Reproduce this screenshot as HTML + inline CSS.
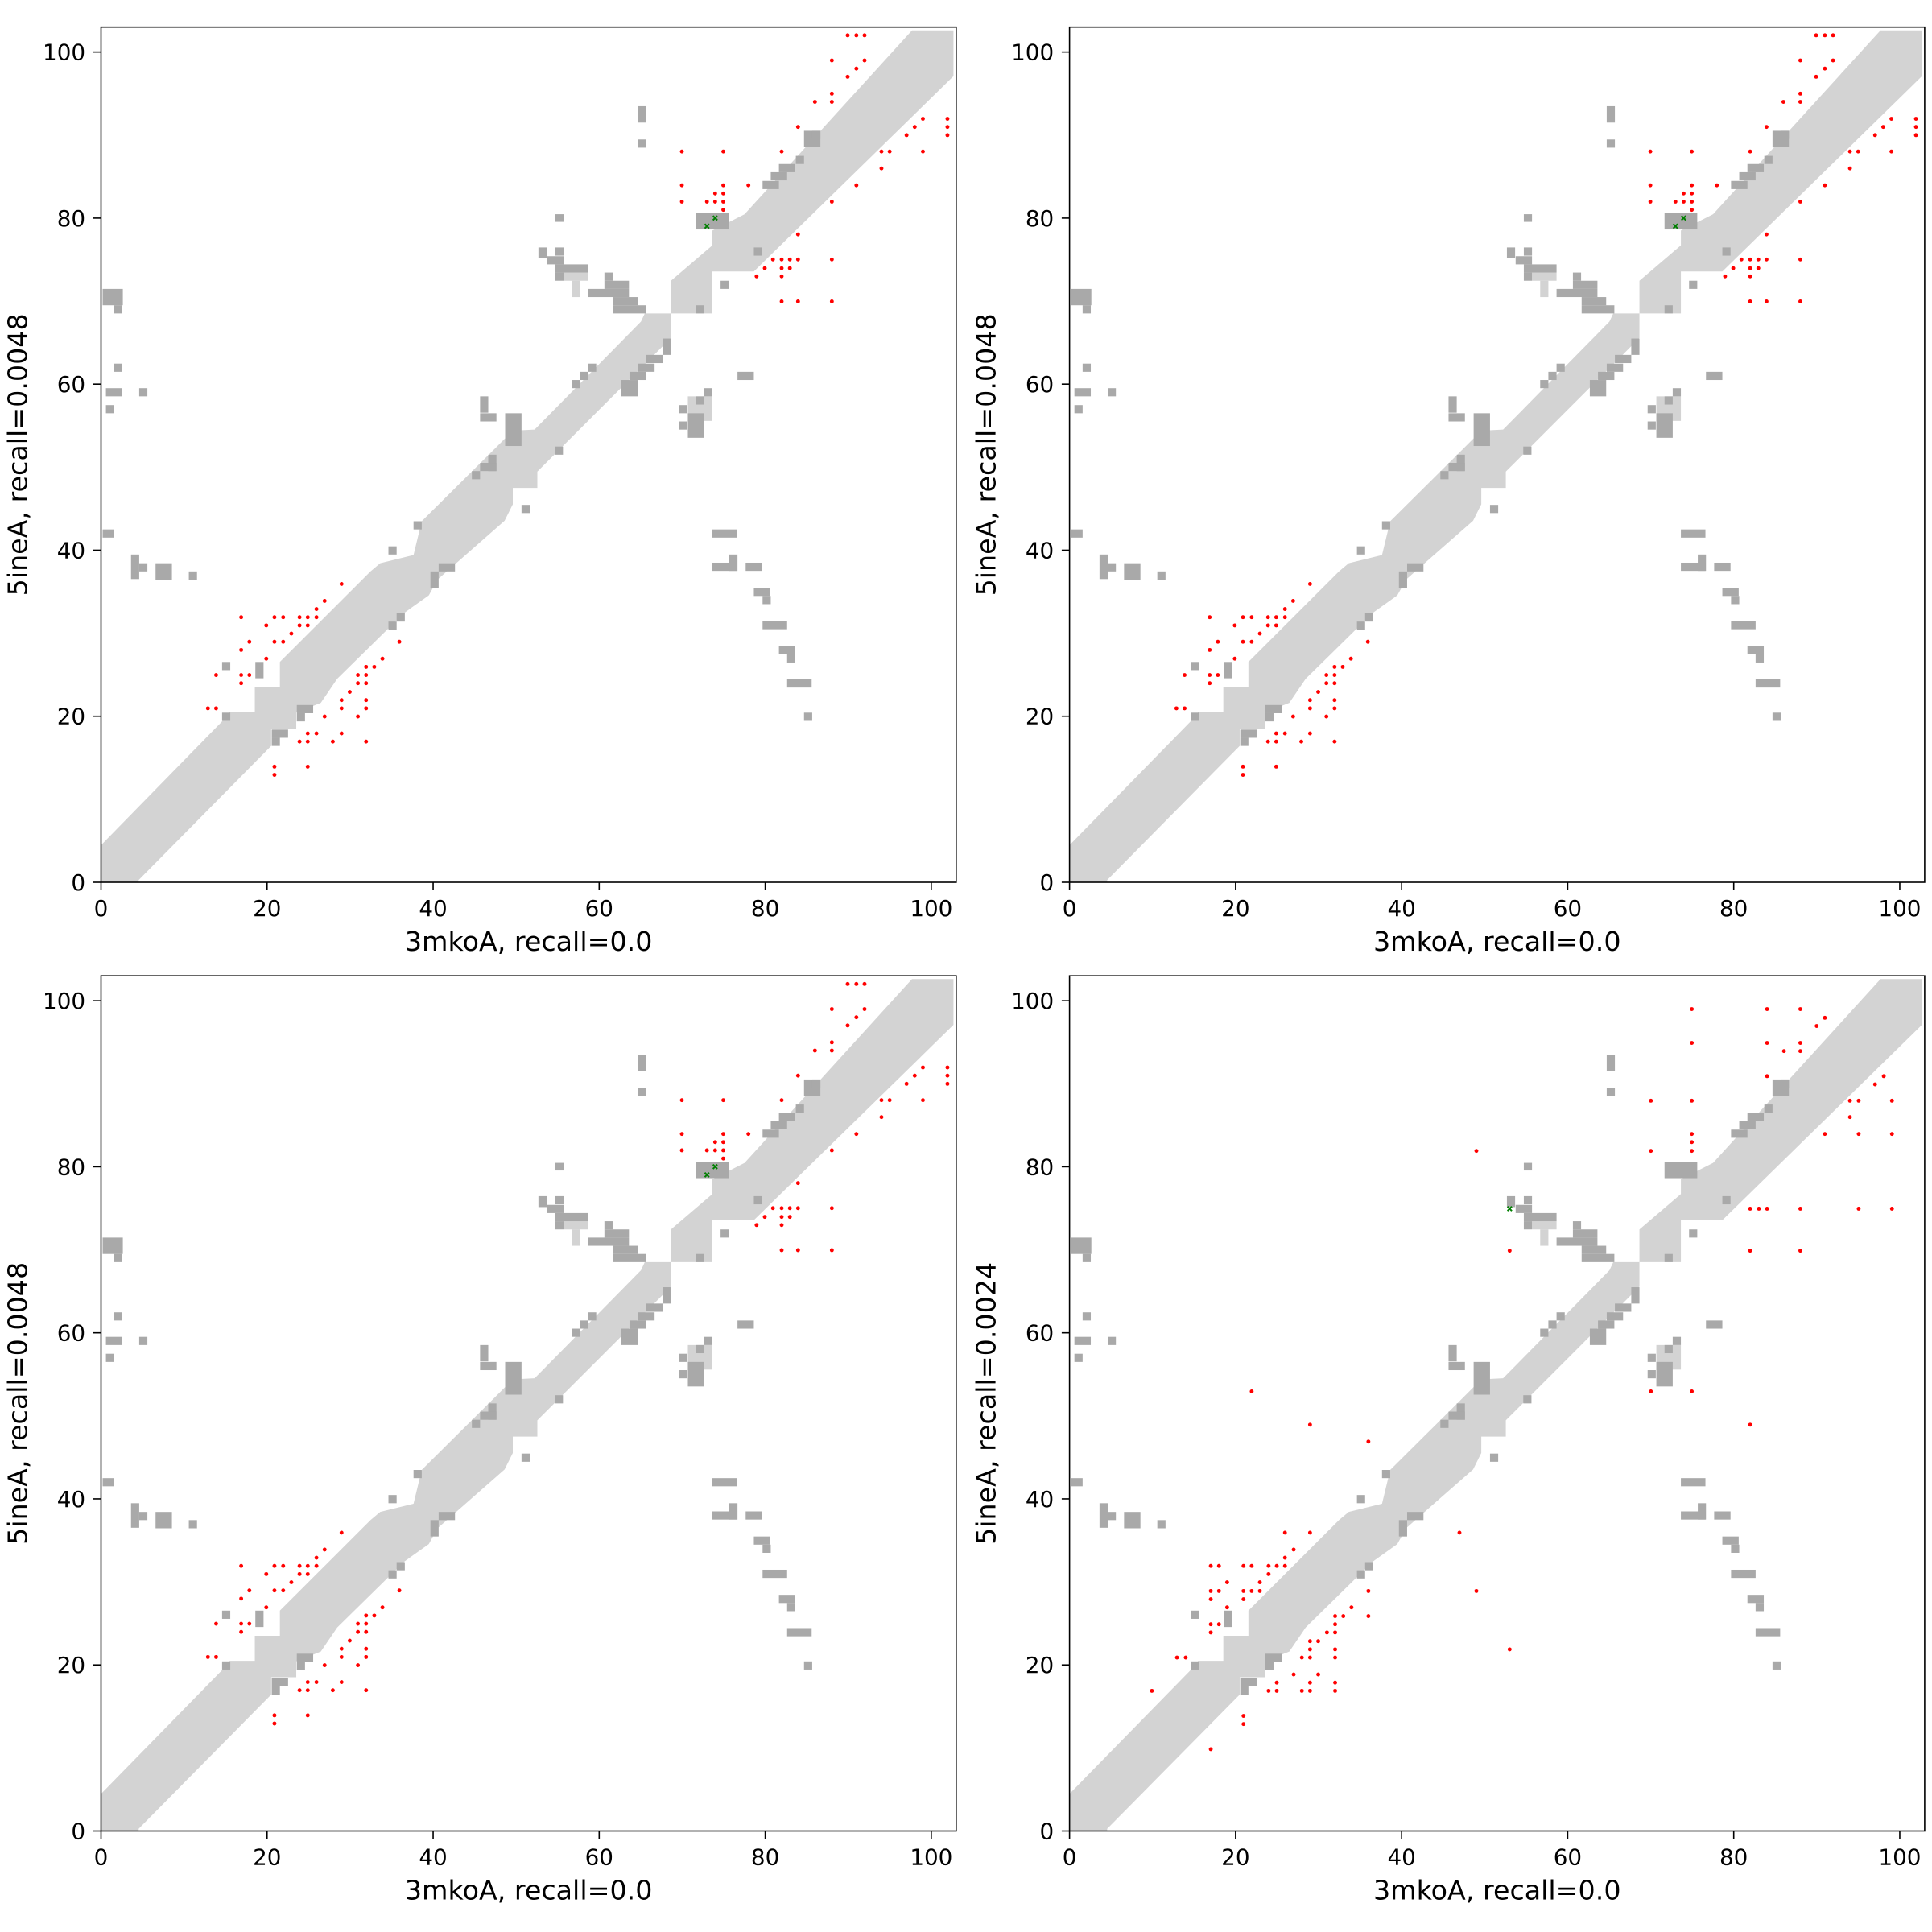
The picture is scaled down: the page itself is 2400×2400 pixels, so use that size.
<!DOCTYPE html>
<html><head><meta charset="utf-8"><style>html,body{margin:0;padding:0;background:#fff}svg{display:block}text{font-family:"DejaVu Sans","Liberation Sans",sans-serif;fill:#000}</style></head>
<body>
<svg id="s" xmlns="http://www.w3.org/2000/svg" width="2400" height="2400" viewBox="0 0 2400 2400">
<defs>
<g id="base">
<polygon fill="#d3d3d3" points="0,1500 221,1274 236,1256 282,1256 282,1210 328,1210 328,1164 494,998 512,983 573,968 588,906 725,770 755,740 795,738 990,540 997,525 1045,525 1045,465 1121,400 1121,373 1180,343 1487,6 1563,6 1563,90 1197,448 1121,448 1121,525 1045,525 1045,570 800,815 800,845 755,845 755,875 740,905 617,1013 601,1042 556,1074 433,1195 403,1239 358,1257 358,1286 312,1286 312,1318 69,1564 69,1568 0,1568"/>
<g fill="#d3d3d3"><rect x="1076" y="677" width="45" height="45"/><rect x="848" y="450" width="45" height="15"/><rect x="863" y="465" width="15" height="30"/></g>
<g id="dk" fill="#a9a9a9"></g>
</g>
</defs>
<g id="panels"></g>
<g id="txt"></g>
</svg>
<script>
var NS="http://www.w3.org/2000/svg";
var dk=[[985,145,15,30],[985,206,15,15],[833,343,15,14],[1091,341,60,30],[802,404,15,20],[833,404,15,15],[818,420,30,15],[833,435,60,15],[833,450,15,15],
[923,450,15,15],[923,465,45,15],[893,480,75,15],[939,495,45,15],[939,510,60,15],
[1289,190,30,30],[1304,190,15,15],[1274,236,15,15],[1243,251,30,15],[1228,266,30,15],[1213,282,30,15],[1197,404,15,15],[1136,465,15,15],[1091,510,15,15],
[1030,571,15,30],[1000,601,30,15],[985,617,30,15],[969,632,30,15],[954,647,30,30],[893,617,15,15],[878,632,15,15],[863,647,15,15],
[1167,632,30,15],[1106,662,15,15],[1091,677,15,15],[1060,693,15,15],[1076,708,30,45],[1060,723,15,15],
[695,677,15,30],[695,708,30,15],[741,708,30,60],[710,784,15,30],[695,799,30,15],[680,814,15,15],[832,769,15,15],[771,876,15,15],
[573,906,15,15],[527,952,15,15],[619,983,30,15],[604,998,15,30],[542,1075,15,15],[527,1090,15,15],
[1121,921,45,15],[1152,967,15,30],[1121,982,45,15],[1182,982,30,15],[1197,1028,30,15],[1213,1043,15,15],[1213,1089,45,15],[1243,1135,30,15],[1258,1150,15,15],[1258,1196,45,15],[1289,1257,15,15],
[3,480,37,30],[24,510,15,15],[24,617,15,15],[9,662,30,15],[70,662,15,15],[9,693,15,15],[3,921,21,15],[55,967,15,45],[70,983,15,15],[100,983,30,30],[161,998,15,15],
[222,1164,15,15],[283,1164,15,30],[359,1243,30,15],[359,1258,15,15],[222,1257,15,15],[313,1288,30,15],[313,1303,15,15]];
var g=document.getElementById('dk');
dk.forEach(function(r){var e=document.createElementNS(NS,'rect');e.setAttribute('x',r[0]);e.setAttribute('y',r[1]);e.setAttribute('width',r[2]);e.setAttribute('height',r[3]);g.appendChild(e);});
var d1=[[1369,15],[1385,15],[1400,15],[1340,61],[1400,61],[1385,76],[1369,91],[1340,122],[1340,137],[1309,137],[1278,183],[1507,168],[1552,168],[1492,183],[1552,183],[1477,198],[1552,198],[1065,228],[1141,228],[1248,228],[1431,228],[1446,228],[1507,228],[1431,259],[1065,290],[1141,290],[1187,290],[1385,290],[1126,305],[1141,305],[1065,320],[1111,320],[1126,320],[1141,320],[1340,320],[1141,335],[1278,380],[1232,426],[1248,426],[1263,426],[1278,426],[1340,426],[1217,442],[1248,442],[1263,442],[1202,457],[1248,457],[1248,503],[1278,503],[1340,503],
[441,1021],[410,1052],[395,1067],[257,1082],[318,1082],[334,1082],[364,1082],[379,1082],[395,1082],[303,1097],[364,1097],[379,1097],[349,1112],[272,1127],[318,1127],[334,1127],[547,1127],[257,1142],[303,1158],[516,1158],[486,1173],[501,1173],[211,1188],[257,1188],[272,1188],[471,1188],[486,1188],[257,1203],[471,1203],[486,1203],[456,1219],[441,1234],[486,1234],[196,1249],[211,1249],[441,1249],[486,1249],[410,1264],[471,1264],[379,1295],[395,1295],[441,1295],[364,1310],[379,1310],[425,1310],[486,1310],[318,1356],[379,1356],[318,1371]];
var g1=[[1126,350],[1111,365]];
var d4=[[1141,61],[1279,61],[1340,61],[1385,77],[1370,92],[1141,123],[1279,123],[1340,123],[1310,138],[1340,138],[1279,184],[1493,184],[1477,199],[1066,229],[1141,229],[1431,229],[1447,229],[1508,229],[1431,259],[1385,290],[1447,290],[1508,290],[1141,290],[1141,305],[1141,321],[1066,321],[746,321],[1248,427],[1264,427],[1279,427],[1340,427],[1447,427],[1508,427],[807,504],[1248,504],[1340,504],
[334,762],[1066,762],[1141,762],[441,823],[1248,823],[548,854],[715,1021],[746,1128],[807,1235],
[395,1021],[441,1021],[411,1052],[395,1067],[259,1082],[274,1082],[319,1082],[334,1082],[365,1082],[380,1082],[395,1082],[365,1097],[289,1112],[349,1112],[259,1128],[274,1128],[319,1128],[334,1128],[349,1128],[259,1143],[319,1143],[289,1158],[259,1189],[274,1189],[259,1204],[197,1250],[213,1250],[151,1311],
[548,1128],[517,1158],[487,1174],[502,1174],[548,1174],[487,1189],[472,1204],[487,1204],[441,1220],[456,1220],[441,1235],[487,1235],[426,1250],[441,1250],[487,1250],[411,1281],[456,1281],[380,1296],[441,1296],[487,1296],[365,1311],[380,1311],[426,1311],[441,1311],[487,1311],[319,1357],[319,1372],[259,1418]];
var g4=[[807,427]];
var P=document.getElementById('panels'),T=document.getElementById('txt');
var L=[125.5,1328.6],Tp=[33.7,1212.2],W=1062.3,u=W/103;
function el(n,a,p){var e=document.createElementNS(NS,n);for(var k in a)e.setAttribute(k,a[k]);p.appendChild(e);return e;}
var panels=[[0,0,d1,g1,'0.0048'],[1,0,d1,g1,'0.0048'],[0,1,d1,g1,'0.0048'],[1,1,d4,g4,'0.0024']];
panels.forEach(function(p){
 var x0=L[p[0]],y0=Tp[p[1]];
 var gg=el('g',{transform:'translate('+x0+','+y0+') scale('+(W/1568)+')'},P);
 el('use',{href:'#base'},gg);
 p[2].forEach(function(c){el('circle',{cx:c[0],cy:c[1],r:3.6,fill:'#ff0000'},gg);});
 p[3].forEach(function(c){el('path',{d:'M'+(c[0]-4)+','+(c[1]-4)+'l8,8M'+(c[0]+4)+','+(c[1]-4)+'l-8,8',stroke:'#008000','stroke-width':3},gg);});
 el('rect',{x:x0,y:y0,width:W,height:W,fill:'none',stroke:'#000','stroke-width':1.6},T);
 for(var v=0;v<=100;v+=20){
  var tx=x0+v*u, ty=y0+W-v*u;
  el('line',{x1:tx,y1:y0+W,x2:tx,y2:y0+W+9.7,stroke:'#000','stroke-width':1.6},T);
  var t=el('text',{x:tx,y:y0+W+42,'font-size':27.8,'text-anchor':'middle'},T);t.textContent=v;
  el('line',{x1:x0,y1:ty,x2:x0-9.7,y2:ty,stroke:'#000','stroke-width':1.6},T);
  t=el('text',{x:x0-19.4,y:ty+10,'font-size':27.8,'text-anchor':'end'},T);t.textContent=v;
 }
 var t=el('text',{x:x0+W/2,y:y0+W+85,'font-size':33.3,'text-anchor':'middle'},T);t.textContent='3mkoA, recall=0.0';
 var cx=x0-92,cy=y0+W/2;
 t=el('text',{x:cx,y:cy,'font-size':33.3,'text-anchor':'middle',transform:'rotate(-90 '+cx+' '+cy+')'},T);t.textContent='5ineA, recall='+p[4];
});
</script>
</body></html>
